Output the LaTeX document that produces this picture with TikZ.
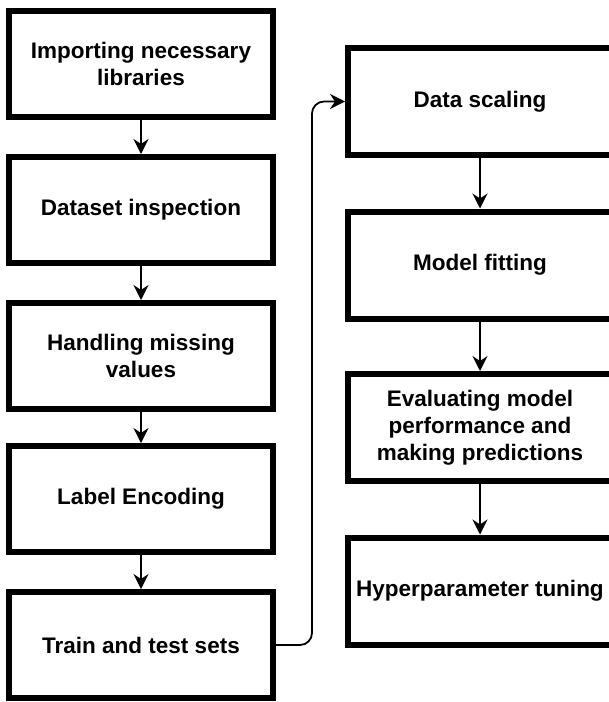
\documentclass[tikz,border=0pt]{standalone}
\usepackage{fontspec}
\setmainfont{Liberation Sans}
\usetikzlibrary{arrows.meta}
\begin{document}
\begin{tikzpicture}[x=1pt,y=-1pt,
  box/.style={draw=black, line width=6pt, fill=white, minimum width=264pt, minimum height=106pt,
    align=center, inner sep=0pt, font=\fontsize{22.5pt}{27pt}\selectfont\bfseries},
  conn/.style={draw=black, line width=1.8pt, -{Stealth[length=15pt,width=15pt,inset=5pt]}}]
\useasboundingbox (0,0) rectangle (609,702);
\clip (0,0) rectangle (609,702);
\node[box] (a) at (141,64) {Importing necessary\\libraries};
\node[box] (b) at (141,210) {Dataset inspection};
\node[box] (c) at (141,356) {Handling missing\\values};
\node[box] (d) at (141,499) {Label Encoding};
\node[box] (e) at (141,645) {Train and test sets};
\node[box, minimum height=107pt] (f) at (480,101.5) {Data scaling};
\node[box, minimum height=107pt] (g) at (480,265) {Model fitting};
\node[box, minimum height=107pt] (h) at (480,427.5) {Evaluating model\\performance and\\making predictions};
\node[box, minimum height=107pt] (k) at (480,591) {Hyperparameter tuning};
\draw[conn] (a) -- (b);
\draw[conn] (b) -- (c);
\draw[conn] (c) -- (d);
\draw[conn] (d) -- (e);
\draw[conn] (f) -- (g);
\draw[conn] (g) -- (h);
\draw[conn] (h) -- (k);
\draw[conn, rounded corners=12pt] (e.east) -- ++(36,0) |- (f.west);
\end{tikzpicture}
\end{document}
